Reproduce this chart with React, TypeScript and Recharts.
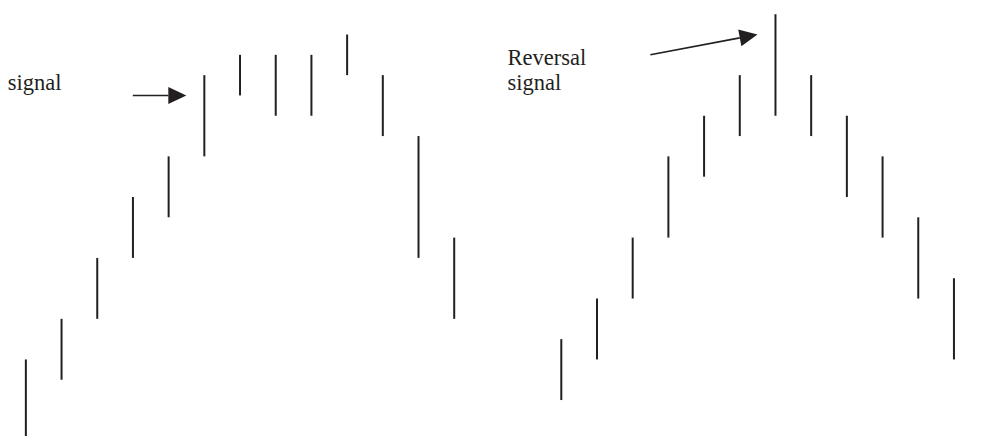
import { Bar, ComposedChart, ReferenceDot, ReferenceLine, XAxis, YAxis } from "recharts";

// bar index along the time axis (13 and 14 are the empty gap between the two patterns)
const lows = [-1, 2, 5, 8, 10, 13, 16, 15, 15, 17, 14, 8, 5, null, null, 1, 3, 6, 9, 12, 14, 15, 14, 11, 9, 6, 3];
const highs = [3, 5, 8, 11, 13, 17, 18, 18, 18, 19, 17, 14, 9, null, null, 4, 6, 9, 13, 15, 17, 20, 17, 15, 13, 10, 7];

const arrowFrom = [
  { x: 3, y: 16 },
  { x: 17.5, y: 18 },
];
const arrowTo = [
  { x: 4.5, y: 16 },
  { x: 20.5, y: 19 },
];

const labels = [
  { x: -0.5, y: 16.25, text: "signal" },
  { x: 13.5, y: 17.5, text: "Reversal" },
  { x: 13.5, y: 16.25, text: "signal" },
];

const INK = "#231f20";
const SERIF = '"Liberation Serif", "Times New Roman", Times, serif';

const data = lows.map((low, i) => ({
  i,
  range: low == null ? null : [low, highs[i]],
}));

const Arrow = (props: any) => {
  const { x1, y1, x2, y2 } = props;
  const a = Math.atan2(y2 - y1, x2 - x1);
  const len = 18;
  const half = 8.5;
  const bx = x2 - len * Math.cos(a);
  const by = y2 - len * Math.sin(a);
  const px = -Math.sin(a) * half;
  const py = Math.cos(a) * half;
  return (
    <g>
      <line x1={x1} y1={y1} x2={bx} y2={by} stroke={INK} strokeWidth={1.6} />
      <polygon points={`${x2},${y2} ${bx + px},${by + py} ${bx - px},${by - py}`} fill={INK} />
    </g>
  );
};

const labelShape = (text: string) => (props: any) => (
  <text x={props.cx} y={props.cy} fill={INK} style={{ fontFamily: SERIF, fontSize: 22.5 }}>
    {text}
  </text>
);

export default function App() {
  return (
    <div style={{ position: "absolute", left: 0, top: 0, background: "#fff" }}>
      <ComposedChart width={987} height={436} data={data} margin={{ top: 0, right: 0, bottom: 0, left: 0 }}>
        <XAxis dataKey="i" type="number" domain={[-0.72, 26.93]} allowDataOverflow hide />
        <YAxis type="number" domain={[-0.77, 20.7]} allowDataOverflow hide />
        <Bar dataKey="range" barSize={2} fill={INK} isAnimationActive={false} />
        {arrowFrom.map((from, k) => (
          <ReferenceLine key={k} segment={[from, arrowTo[k]]} shape={Arrow} />
        ))}
        {labels.map((l, k) => (
          <ReferenceDot key={k} x={l.x} y={l.y} r={0} shape={labelShape(l.text)} />
        ))}
      </ComposedChart>
    </div>
  );
}
